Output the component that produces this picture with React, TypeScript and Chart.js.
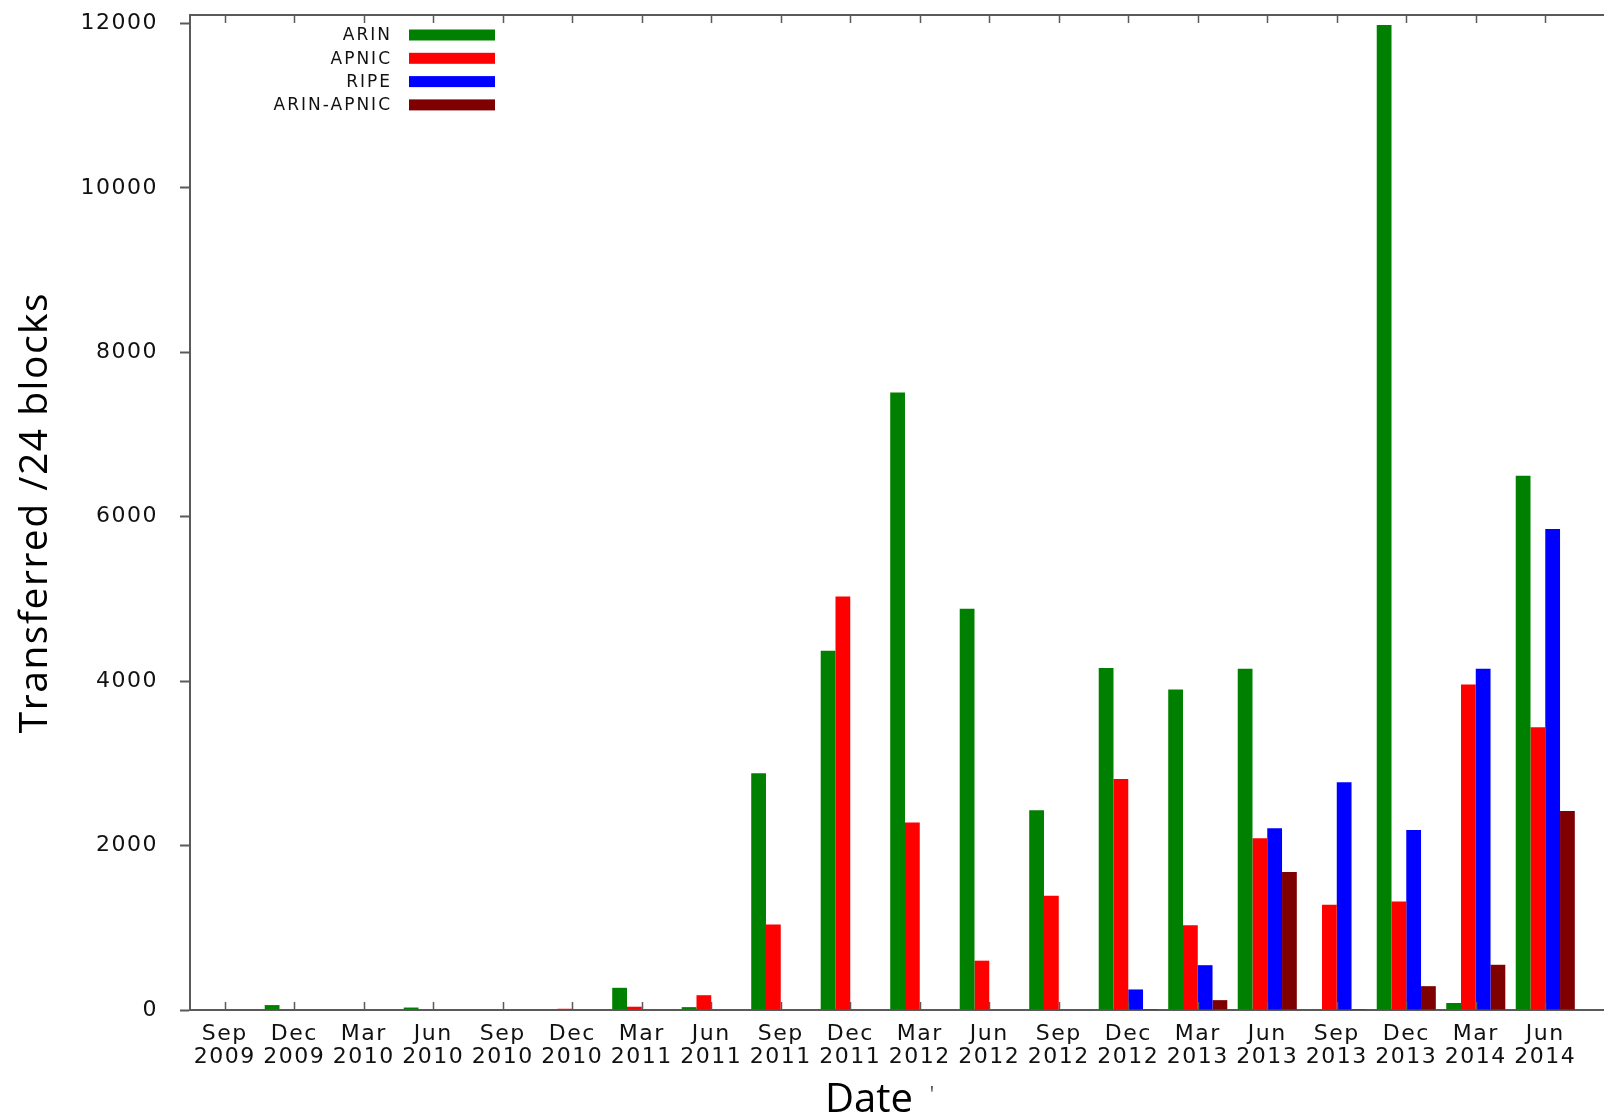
import React, { useEffect, useRef } from 'react';
import { Chart, registerables } from 'chart.js';

Chart.register(...registerables);

// ---- data ----
const categories = [
  'Sep 2009', 'Dec 2009', 'Mar 2010', 'Jun 2010', 'Sep 2010', 'Dec 2010', 'Mar 2011',
  'Jun 2011', 'Sep 2011', 'Dec 2011', 'Mar 2012', 'Jun 2012', 'Sep 2012', 'Dec 2012',
  'Mar 2013', 'Jun 2013', 'Sep 2013', 'Dec 2013', 'Mar 2014', 'Jun 2014',
];
const arin = [0, 60, 0, 30, 0, 0, 270, 35, 2880, 4370, 7510, 4880, 2430, 4160, 3900, 4150, 0, 11980, 85, 6500];
const apnic = [0, 0, 0, 0, 0, 15, 40, 180, 1040, 5030, 2280, 600, 1390, 2810, 1030, 2090, 1280, 1320, 3960, 3440];
const ripe = [0, 0, 0, 0, 0, 0, 0, 0, 0, 0, 0, 0, 0, 250, 545, 2210, 2770, 2190, 4150, 5850];
const arinApnic = [0, 0, 0, 0, 0, 0, 0, 0, 0, 0, 0, 0, 0, 10, 120, 1680, 10, 290, 550, 2420];
const seriesNames = ['ARIN', 'APNIC', 'RIPE', 'ARIN-APNIC'];
const yTickValues = [0, 2000, 4000, 6000, 8000, 10000, 12000];
const xTitle = 'Date';
const yTitle = 'Transferred /24 blocks';

const COLORS = ['#008000', '#ff0000', '#0000ff', '#7f0000'];
const AXIS = '#5a5a5a';
const TEXT = '#111111';

const toPoints = (arr: number[]) => arr.map((v, i) => ({ x: i, y: v }));

const framePlugin = {
  id: 'gnuFrame',
  beforeDraw(chart: any) {
    // the source image is horizontally stretched: widen the tick text a little
    (chart.ctx as any).letterSpacing = '1.5px';
  },
  afterDraw(chart: any) {
    const { ctx, chartArea, scales } = chart;
    const xs = scales.x;
    ctx.save();
    // top border
    ctx.strokeStyle = AXIS;
    ctx.lineWidth = 2;
    ctx.beginPath();
    ctx.moveTo(chartArea.left - 1, chartArea.top);
    ctx.lineTo(chartArea.right, chartArea.top);
    ctx.stroke();
    // inward category ticks on bottom and top
    ctx.lineWidth = 1.5;
    ctx.beginPath();
    xs.ticks.forEach((t: any) => {
      const px = Math.round(xs.getPixelForValue(t.value)) + 0.5;
      ctx.moveTo(px, chartArea.bottom);
      ctx.lineTo(px, chartArea.bottom - 8);
      ctx.moveTo(px, chartArea.top);
      ctx.lineTo(px, chartArea.top + 8);
    });
    ctx.stroke();

    // legend (gnuplot style: right-aligned label, swatch to the right)
    (ctx as any).letterSpacing = '2px';
    ctx.font = '17px "DejaVu Sans"';
    ctx.textAlign = 'right';
    ctx.textBaseline = 'middle';
    chart.data.datasets.forEach((ds: any, i: number) => {
      const y = chartArea.top + 20 + i * 23.3;
      ctx.fillStyle = TEXT;
      ctx.fillText(ds.label, chartArea.left + 202, y + 1);
      ctx.fillStyle = ds.backgroundColor;
      ctx.fillRect(chartArea.left + 219, y - 5.5, 86, 11);
    });

    // x title on a white box (as in the source slide)
    (ctx as any).letterSpacing = '0px';
    ctx.fillStyle = '#ffffff';
    ctx.fillRect(818, 1063, 111, 56);
    ctx.fillStyle = '#000000';
    ctx.font = '40px "Open Sans"';
    ctx.textAlign = 'center';
    ctx.textBaseline = 'alphabetic';
    ctx.fillText(xTitle, 869, 1112);
    ctx.fillStyle = '#555555';
    ctx.font = '22px "Open Sans"';
    ctx.fillText("'", 932, 1102);
    ctx.restore();
    (ctx as any).letterSpacing = '1.5px';
  },
};

export default function App() {
  const ref = useRef<HTMLCanvasElement | null>(null);

  useEffect(() => {
    if (!ref.current) return;
    const seriesValues = [arin, apnic, ripe, arinApnic];
    const chart = new Chart(ref.current, {
      type: 'bar',
      data: {
        datasets: seriesValues.map((vals, i) => ({
          label: seriesNames[i],
          data: toPoints(vals),
          backgroundColor: COLORS[i],
          borderWidth: 0,
          categoryPercentage: 0.85,
          barPercentage: 1.0,
        })),
      },
      options: {
        responsive: false,
        animation: false,
        events: [],
        layout: { padding: { top: 15, left: 0, right: 0, bottom: 0 } },
        plugins: {
          legend: { display: false },
          tooltip: { enabled: false },
          title: { display: false },
        },
        scales: {
          x: {
            type: 'linear',
            min: -0.5,
            max: 19.845,
            offset: false,
            grid: { display: false, drawTicks: false },
            border: { display: true, color: AXIS, width: 2 },
            ticks: {
              stepSize: 1,
              includeBounds: false,
              autoSkip: false,
              maxRotation: 0,
              padding: 13,
              color: TEXT,
              font: { family: '"DejaVu Sans"', size: 22, lineHeight: 1.05 },
              callback: (v: any) => {
                const lbl = categories[Number(v)];
                return lbl ? lbl.split(' ') : '';
              },
            },
            afterFit: (s: any) => {
              s.height = 109;
              s.paddingLeft = 0;
              s.paddingRight = 0;
            },
          },
          y: {
            type: 'linear',
            min: 0,
            max: 12103,
            grid: {
              display: true,
              drawOnChartArea: false,
              drawTicks: true,
              tickLength: 10,
              tickColor: AXIS,
              tickWidth: 2,
            },
            border: { display: true, color: AXIS, width: 2 },
            afterBuildTicks: (s: any) => {
              s.ticks = yTickValues.map((v) => ({ value: v }));
            },
            ticks: {
              padding: 22,
              color: TEXT,
              font: { family: '"DejaVu Sans"', size: 22 },
              callback: (v: any) => String(v),
            },
            title: {
              display: true,
              text: yTitle,
              color: '#000000',
              font: { family: '"Open Sans"', size: 39, lineHeight: 1.2 },
              padding: { top: 12, bottom: 0 },
            },
            afterFit: (s: any) => {
              s.width = 190;
              s.paddingTop = 0;
              s.paddingBottom = 0;
            },
          },
        },
      },
      plugins: [framePlugin],
    } as any);
    return () => chart.destroy();
  }, []);

  return (
    <div style={{ position: 'absolute', left: 0, top: 0, width: 1604, height: 1119, background: '#fff' }}>
      <canvas ref={ref} width={1604} height={1119} style={{ width: 1604, height: 1119, display: 'block' }} />
    </div>
  );
}
